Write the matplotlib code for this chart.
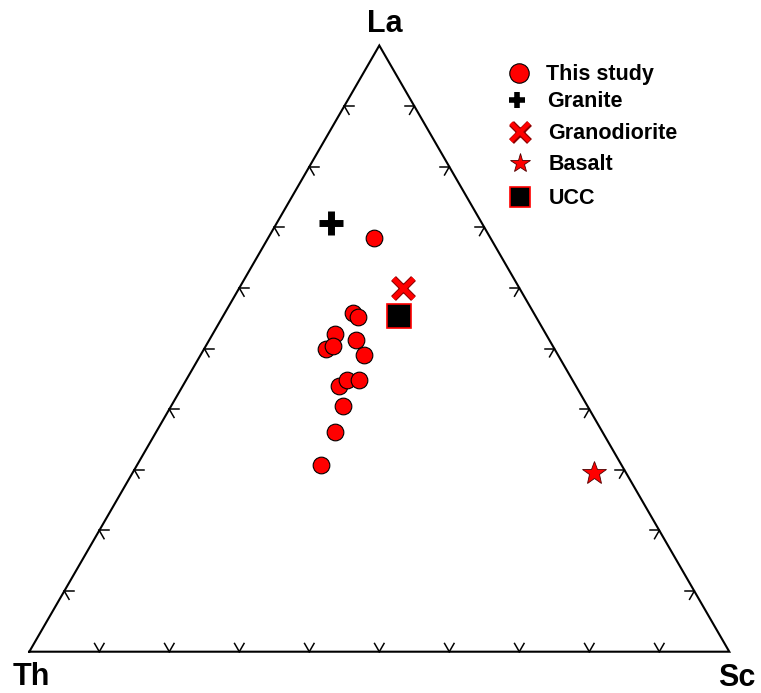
import numpy as np
import matplotlib
matplotlib.use("Agg")
import matplotlib.pyplot as plt
import matplotlib.patheffects as pe

plt.rcParams['font.family'] = ['Liberation Sans', 'DejaVu Sans']

# ---- data (fractions La, Th, Sc) ----
study_La = [0.682, 0.559, 0.552, 0.524, 0.514, 0.499, 0.505, 0.489, 0.439, 0.448, 0.448, 0.406, 0.362, 0.308]
study_Th = [0.167, 0.258, 0.254, 0.302, 0.277, 0.326, 0.313, 0.277, 0.338, 0.322, 0.305, 0.349, 0.382, 0.430]
study_Sc = [0.151, 0.183, 0.194, 0.174, 0.209, 0.175, 0.182, 0.234, 0.223, 0.230, 0.247, 0.245, 0.256, 0.262]

granite = (0.707, 0.216, 0.077)        # La, Th, Sc
granodiorite = (0.600, 0.166, 0.234)
basalt = (0.294, 0.046, 0.660)
ucc = (0.553, 0.196, 0.251)

vertex_labels = ["La", "Th", "Sc"]
legend_labels = ["This study", "Granite", "Granodiorite", "Basalt", "UCC"]
tick_fracs = [i / 10 for i in range(1, 10)]

H = np.sqrt(3) / 2


def tern(la, th, sc):
    la = np.asarray(la, float); th = np.asarray(th, float); sc = np.asarray(sc, float)
    s = la + th + sc
    la, sc = la / s, sc / s
    return sc + la / 2, la * H


W, Hp = 761, 693
fig = plt.figure(figsize=(W / 100, Hp / 100), dpi=100)
ax = fig.add_axes([0, 0, 1, 1])
ax.set_xlim(-29.3 / 700, (W - 29.3) / 700)
ax.set_ylim((651.7 - Hp) / 700, 651.7 / 700)
ax.axis('off')

# triangle
ax.plot([0, 1, 0.5, 0], [0, 0, H, 0], color='black', lw=1.5, solid_joinstyle='miter', zorder=2)

# ticks
L = 9.5 / 700
def arm(x0, y0, ang):
    a = np.deg2rad(ang)
    ax.plot([x0, x0 + L * np.cos(a)], [y0, y0 + L * np.sin(a)], color='black', lw=1.1, zorder=2)

for f in tick_fracs:
    arm(f, 0, 60); arm(f, 0, 120)
    xl, yl = 0.5 * f, H * f
    arm(xl, yl, 0); arm(xl, yl, -60)
    xr, yr = 1 - 0.5 * f, H * f
    arm(xr, yr, 180); arm(xr, yr, 240)

def px(xp, yp):
    return ((xp - 29.3) / 700, (651.7 - yp) / 700)

lab_kw = dict(fontsize=22, fontweight='bold', ha='center', va='baseline')
ax.text(*px(384.5, 31.5), vertex_labels[0], **lab_kw)
ax.text(*px(31, 685), vertex_labels[1], **lab_kw)
ax.text(*px(736.5, 686), vertex_labels[2], **lab_kw)

xoutline = [pe.Stroke(linewidth=5.0, foreground='#8b0000'), pe.Normal()]

# data
x, y = tern(study_La, study_Th, study_Sc)
ax.plot(x, y, 'o', ms=12, mfc='red', mec='black', mew=0.8, ls='none', zorder=5)

gx, gy = tern(*granite)
ax.plot(gx, gy, '+', ms=17, mec='black', mew=5, zorder=5)
dx, dy = tern(*granodiorite)
ax.plot(dx, dy, 'x', ms=14, mec='red', mew=3.5, zorder=5, path_effects=xoutline)
bx, by = tern(*basalt)
ax.plot(bx, by, '*', ms=18, mfc='red', mec='#4d0000', mew=0.6, zorder=5)
ux, uy = tern(*ucc)
ax.plot(ux, uy, 's', ms=17, mfc='black', mec='red', mew=1.2, zorder=5)

# legend (manual)
leg_markers = [
    dict(marker='o', ms=14, mfc='red', mec='black', mew=0.8),
    dict(marker='+', ms=11, mec='black', mew=4),
    dict(marker='x', ms=12.5, mec='red', mew=3.2, path_effects=xoutline),
    dict(marker='*', ms=15, mfc='red', mec='#4d0000', mew=0.6),
    dict(marker='s', ms=15, mfc='black', mec='red', mew=1.2),
]
leg_marker_pos = [(519.3, 73), (516.5, 100), (520, 132), (520, 163), (520, 197)]
leg_text_pos = [(546, 80), (547, 107), (548, 139), (549, 170), (549, 204)]
for m, (mx, my), (tx, ty), lab in zip(leg_markers, leg_marker_pos, leg_text_pos, legend_labels):
    ax.plot(*px(mx, my), ls='none', clip_on=False, zorder=5, **m)
    ax.text(*px(tx, ty), lab, fontsize=15.5, fontweight='bold', ha='left', va='baseline')

fig.savefig('out.png', dpi=100)
